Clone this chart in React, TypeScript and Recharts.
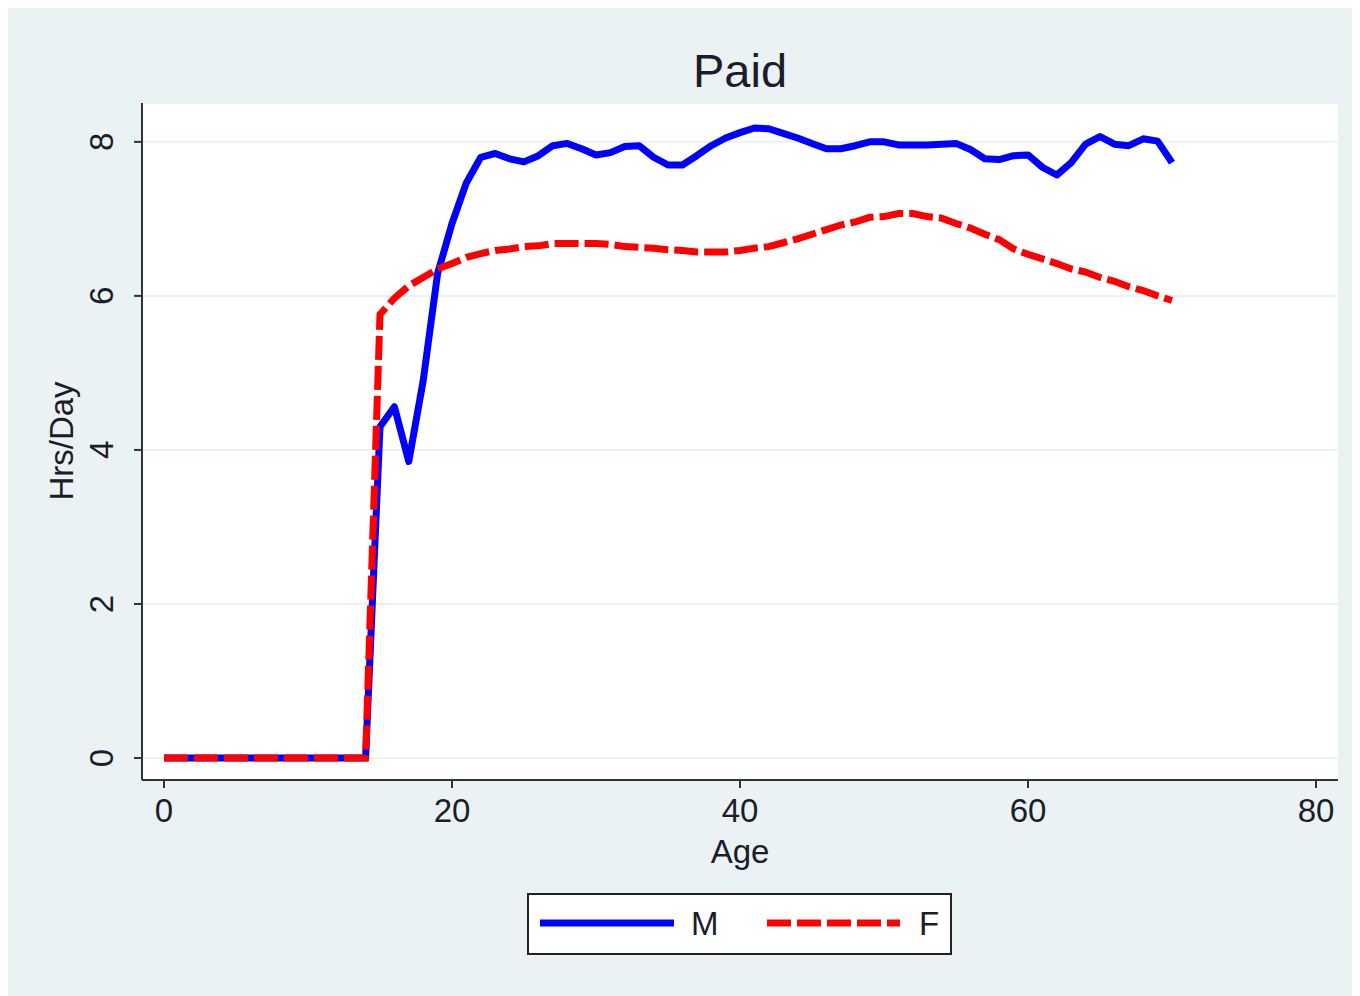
import React from 'react';
import { LineChart, Line, XAxis, YAxis, CartesianGrid } from 'recharts';

const ages = [
  0, 1, 2, 3, 4, 5, 6, 7, 8, 9, 10, 11, 12, 13, 14, 15, 16, 17, 18, 19, 20,
  21, 22, 23, 24, 25, 26, 27, 28, 29, 30, 31, 32, 33, 34, 35, 36, 37, 38, 39, 40,
  41, 42, 43, 44, 45, 46, 47, 48, 49, 50, 51, 52, 53, 54, 55, 56, 57, 58, 59, 60,
  61, 62, 63, 64, 65, 66, 67, 68, 69, 70,
];

// male paid hours per day
const male = [
  0, 0, 0, 0, 0, 0, 0, 0, 0, 0, 0, 0, 0, 0, 0, 4.3, 4.56, 3.85, 4.9, 6.29, 6.94,
  7.47, 7.8, 7.85, 7.78, 7.74, 7.82, 7.95, 7.98, 7.91, 7.83, 7.86, 7.94, 7.95, 7.8, 7.7, 7.7, 7.82, 7.95, 8.05, 8.12,
  8.18, 8.17, 8.11, 8.05, 7.98, 7.91, 7.91, 7.95, 8.0, 8.0, 7.96, 7.96, 7.96, 7.97, 7.98, 7.9, 7.78, 7.77, 7.82, 7.83,
  7.67, 7.57, 7.73, 7.97, 8.07, 7.97, 7.95, 8.04, 8.01, 7.73,
];

// female paid hours per day
const female = [
  0, 0, 0, 0, 0, 0, 0, 0, 0, 0, 0, 0, 0, 0, 0, 5.76, 5.97, 6.13, 6.24, 6.35, 6.42,
  6.5, 6.55, 6.59, 6.61, 6.64, 6.65, 6.68, 6.68, 6.68, 6.68, 6.67, 6.64, 6.63, 6.62, 6.6, 6.59, 6.57, 6.57, 6.57, 6.59,
  6.62, 6.64, 6.69, 6.74, 6.8, 6.86, 6.92, 6.96, 7.02, 7.03, 7.07, 7.07, 7.03, 7.01, 6.94, 6.88, 6.8, 6.73, 6.61, 6.54,
  6.48, 6.42, 6.35, 6.31, 6.24, 6.19, 6.12, 6.07, 6.0, 5.94,
];

const xTicks = [0, 20, 40, 60, 80];
const yTicks = [0, 2, 4, 6, 8];

const data = ages.map((age, i) => ({ age, M: male[i], F: female[i] }));

const FONT = '"Liberation Sans", Arial, Helvetica, sans-serif';
const TEXT = '#1c1c2a';
const BG = '#eaf2f3';

const XTick = (props: any) => {
  const { x, y, payload } = props;
  return (
    <text x={x} y={y} dy={34} textAnchor="middle" fontSize={33} fontFamily={FONT} fill={TEXT}>
      {payload.value}
    </text>
  );
};

const YTick = (props: any) => {
  const { y, payload } = props;
  return (
    <text
      transform={`translate(105, ${y}) rotate(-90)`}
      textAnchor="middle"
      fontSize={33}
      fontFamily={FONT}
      fill={TEXT}
    >
      {payload.value}
    </text>
  );
};

export default function App() {
  return (
    <div style={{ position: 'relative', width: 1352, height: 988, background: BG }}>
      <LineChart
        width={1352}
        height={988}
        data={data}
        margin={{ top: 95, right: 22, bottom: 136, left: 34 }}
      >
        <CartesianGrid horizontal vertical={false} fill="#ffffff" stroke={BG} strokeWidth={2} />
        <XAxis
          dataKey="age"
          type="number"
          domain={[0, 80]}
          ticks={xTicks}
          padding={{ left: 22, right: 22 }}
          height={80}
          tickSize={8}
          tickMargin={0}
          tick={<XTick />}
          axisLine={{ stroke: '#333', strokeWidth: 2 }}
          tickLine={{ stroke: '#333', strokeWidth: 2 }}
        />
        <YAxis
          type="number"
          domain={[0, 8]}
          ticks={yTicks}
          padding={{ top: 25, bottom: 22 }}
          width={100}
          tickSize={8}
          tickMargin={0}
          tick={<YTick />}
          axisLine={{ stroke: '#333', strokeWidth: 2 }}
          tickLine={{ stroke: '#333', strokeWidth: 2 }}
        />
        <Line
          dataKey="M"
          type="linear"
          stroke="#0000ff"
          strokeWidth={7}
          dot={false}
          strokeLinejoin="round"
          isAnimationActive={false}
        />
        <Line
          dataKey="F"
          type="linear"
          stroke="#ff0000"
          strokeWidth={7}
          strokeDasharray="24 6"
          dot={false}
          isAnimationActive={false}
        />
        <text x={732} y={79} textAnchor="middle" fontSize={47} fontFamily={FONT} fill={TEXT}>
          Paid
        </text>
        <text x={732} y={855} textAnchor="middle" fontSize={33} fontFamily={FONT} fill={TEXT}>
          Age
        </text>
        <text
          transform="translate(65, 433) rotate(-90)"
          textAnchor="middle"
          fontSize={33}
          fontFamily={FONT}
          fill={TEXT}
        >
          Hrs/Day
        </text>
      </LineChart>
      <div
        style={{
          position: 'absolute',
          left: 519,
          top: 885,
          width: 421,
          height: 58,
          background: '#fff',
          border: '2px solid #222',
        }}
      >
        <svg width={421} height={58} style={{ display: 'block' }}>
          <line x1={11} y1={28} x2={145} y2={28} stroke="#0000ff" strokeWidth={7} />
          <text x={162} y={40} fontSize={33} fontFamily={FONT} fill={TEXT}>
            M
          </text>
          <line x1={238} y1={28} x2={371} y2={28} stroke="#ff0000" strokeWidth={7} strokeDasharray="24 6" />
          <text x={390} y={40} fontSize={33} fontFamily={FONT} fill={TEXT}>
            F
          </text>
        </svg>
      </div>
    </div>
  );
}
